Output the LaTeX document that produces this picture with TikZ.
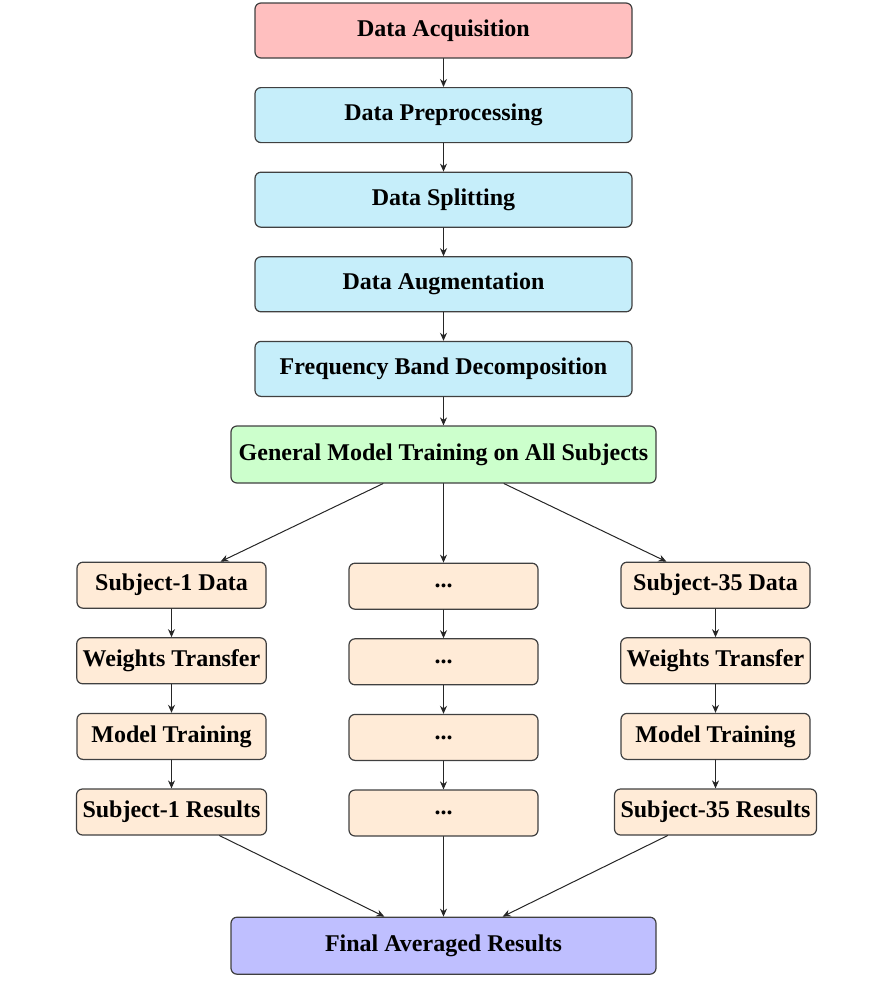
\documentclass[tikz,border=0pt]{standalone}
\usepackage{fontspec}
\setmainfont{Liberation Serif}
\usetikzlibrary{positioning,arrows.meta}
\definecolor{acqred}{HTML}{FFBFBF}
\definecolor{prepblue}{HTML}{C6EEFA}
\definecolor{traingreen}{HTML}{CCFFCC}
\definecolor{subjpeach}{HTML}{FFEBD7}
\definecolor{finalblue}{HTML}{BFBFFF}
\begin{document}
\begin{tikzpicture}[line join=round, line cap=round, >={Stealth[length=4pt,width=3.5pt]}, node distance=14.2pt]
	\tikzset{box/.style={draw=black!75, line width=0.6pt, rounded corners=3pt, font=\fontsize{12}{14}\selectfont\bfseries, align=center, inner xsep=3pt, inner ysep=4pt},
		mainbox/.style={box, minimum width=188.5pt, minimum height=27.5pt, fill=prepblue},
		widebox/.style={box, minimum width=212.5pt, minimum height=28.5pt},
		subbox/.style={box, minimum width=94.5pt, minimum height=23pt, fill=subjpeach},
		arr/.style={->, line width=0.5pt, black!85}}
	\useasboundingbox (0,0) rectangle (445pt,-500.5pt);
	% main pipeline
	\node[mainbox, fill=acqred] (acq) at (221.75pt,-15.25pt) {Data Acquisition};
	\node[mainbox, below=of acq] (prep) {Data Preprocessing};
	\node[mainbox, below=of prep] (split) {Data Splitting};
	\node[mainbox, below=of split] (aug) {Data Augmentation};
	\node[mainbox, below=of aug] (band) {Frequency Band Decomposition};
	\node[widebox, fill=traingreen, below=of band] (general) {General Model Training on All Subjects};
	% subject columns
	\node[subbox, below=39pt of general, xshift=-136pt] (sadata) {Subject-1 Data};
	\node[subbox, below=of sadata] (saweights) {Weights Transfer};
	\node[subbox, below=of saweights] (satrain) {Model Training};
	\node[subbox, below=of satrain] (sares) {Subject-1 Results};
	\node[subbox, below=39.5pt of general] (smdata) {...};
	\node[subbox, below=of smdata] (smweights) {...};
	\node[subbox, below=of smweights] (smtrain) {...};
	\node[subbox, below=of smtrain] (smres) {...};
	\node[subbox, below=39pt of general, xshift=136pt] (szdata) {Subject-35 Data};
	\node[subbox, below=of szdata] (szweights) {Weights Transfer};
	\node[subbox, below=of szweights] (sztrain) {Model Training};
	\node[subbox, below=of sztrain] (szres) {Subject-35 Results};
	\node[widebox, fill=finalblue, below=40pt of smres] (final) {Final Averaged Results};
	% arrows
	\draw[arr] (acq)--(prep);
	\draw[arr] (prep)--(split);
	\draw[arr] (split)--(aug);
	\draw[arr] (aug)--(band);
	\draw[arr] (band)--(general);
	\foreach \c in {sa,sm,sz}{
		\draw[arr] (general)--(\c data);
		\draw[arr] (\c data)--(\c weights);
		\draw[arr] (\c weights)--(\c train);
		\draw[arr] (\c train)--(\c res);
		\draw[arr] (\c res)--(final);
	}
\end{tikzpicture}
\end{document}
